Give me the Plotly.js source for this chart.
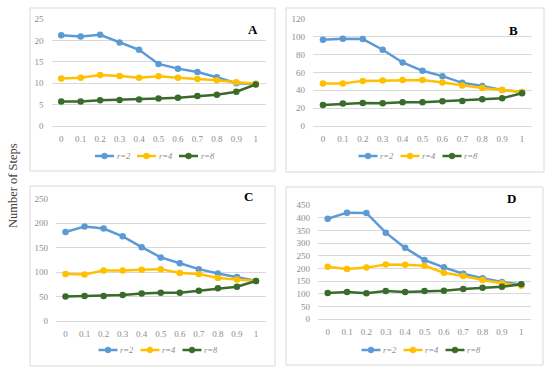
<!DOCTYPE html>
<html><head><meta charset="utf-8">
<script src="https://cdn.plot.ly/plotly-3.0.1.min.js"></script>
<style>body{margin:0;padding:0;background:#fff}#chart{width:550px;height:372px}</style>
</head><body><div id="chart"></div>
<script>
const xVals = [0, 0.1, 0.2, 0.3, 0.4, 0.5, 0.6, 0.7, 0.8, 0.9, 1];
const xTickLabels = ["0","0.1","0.2","0.3","0.4","0.5","0.6","0.7","0.8","0.9","1"];
const seriesNames = ["r=2", "r=4", "r=8"];
const panelLabels = ["A", "B", "C", "D"];

const A_r2 = [21.2, 20.9, 21.3, 19.5, 17.8, 14.5, 13.4, 12.6, 11.4, 10.0, 9.8];
const A_r4 = [11.1, 11.3, 11.9, 11.7, 11.3, 11.6, 11.3, 11.0, 10.7, 10.2, 9.9];
const A_r8 = [5.7, 5.7, 6.0, 6.1, 6.2, 6.4, 6.6, 7.0, 7.3, 8.0, 9.7];

const B_r2 = [96.7, 97.9, 97.5, 85.5, 71.2, 61.9, 55.9, 48.4, 45.0, 40.5, 38.2];
const B_r4 = [47.6, 47.6, 50.6, 51.0, 51.7, 51.7, 48.7, 45.4, 42.7, 40.5, 38.2];
const B_r8 = [23.6, 25.1, 25.9, 25.5, 26.6, 26.6, 27.7, 28.1, 30.0, 31.1, 36.7];

const C_r2 = [182, 193, 189, 173, 151, 130, 118, 106, 97, 90, 82];
const C_r4 = [96, 95, 103, 103, 105, 106, 98, 96, 88, 85, 82];
const C_r8 = [50, 51, 51, 53, 56, 58, 58, 62, 67, 70, 82];

const D_r2 = [397, 421, 420, 342, 282, 234, 205, 180, 162, 147, 137];
const D_r4 = [207, 199, 204, 216, 215, 211, 184, 171, 155, 142, 132];
const D_r8 = [104, 108, 103, 112, 108, 112, 113, 120, 125, 128, 138];

const yTitle = "Number of Steps";

const colors = ["#5B9BD5", "#FFC000", "#3A6B2A"];
const FONT = "'Liberation Serif', 'Times New Roman', serif";
const W = 550, H = 372;
const px = v => v / W;
const py = v => 1 - v / H;

const panels = [
  {data:[A_r2,A_r4,A_r8], x0:51.5, x1:265.5, yt:19, yb:126, yr:[0,25], dt:5, box:[30,8,275,171], lab:[253,29], leg:[152.5,156]},
  {data:[B_r2,B_r4,B_r8], x0:313, x1:532, yt:19, yb:126, yr:[0,120], dt:20, box:[286,8,544,172], lab:[513,30], leg:[416,156]},
  {data:[C_r2,C_r4,C_r8], x0:56, x1:265.5, yt:198.7, yb:321, yr:[0,250], dt:50, box:[30,186,275,366], lab:[248,196], leg:[156,350]},
  {data:[D_r2,D_r4,D_r8], x0:318, x1:531, yt:205.3, yb:319.3, yr:[0,450], dt:50, box:[286,187,543,365], lab:[511,198], leg:[419,350]}
];
// legend entry layout (pixels, relative to legend centre)
const legStarts = [-57.5, -15.5, 26.5];
const legLineLen = 19;

const traces = [];
const layout = {
  width: W, height: H,
  margin: {l:0, r:0, t:0, b:0},
  paper_bgcolor: "#fff", plot_bgcolor: "rgba(0,0,0,0)",
  font: {family: FONT, color: "#595959"},
  showlegend: false,
  shapes: [], annotations: []
};

panels.forEach((p, i) => {
  const n = i === 0 ? "" : String(i + 1);
  p.data.forEach((arr, k) => {
    traces.push({
      x: xVals, y: arr, type: "scatter", mode: "lines+markers",
      name: seriesNames[k],
      xaxis: "x" + n, yaxis: "y" + n,
      line: {color: colors[k], width: 2.5},
      marker: {color: colors[k], size: 6.5},
      hoverinfo: "skip"
    });
    // legend sample
    const lx0 = p.leg[0] + legStarts[k];
    const ly = p.leg[1];
    layout.shapes.push({
      type: "line", xref: "paper", yref: "paper",
      x0: px(lx0), x1: px(lx0 + legLineLen), y0: py(ly), y1: py(ly),
      line: {color: colors[k], width: 2.5}
    });
    layout.shapes.push({
      type: "circle", xref: "paper", yref: "paper",
      x0: px(lx0 + legLineLen/2 - 3), x1: px(lx0 + legLineLen/2 + 3),
      y0: py(ly + 3), y1: py(ly - 3),
      line: {color: colors[k], width: 0.5}, fillcolor: colors[k]
    });
    layout.annotations.push({
      text: "<i>" + seriesNames[k] + "</i>", xref: "paper", yref: "paper",
      x: px(lx0 + legLineLen + 0.5), y: py(ly), xanchor: "left", yanchor: "middle",
      showarrow: false, font: {size: 8.5, color: "#8C8C8C", family: FONT}
    });
  });
  layout["xaxis" + n] = {
    domain: [px(p.x0), px(p.x1)], anchor: "y" + n,
    range: [-0.05, 1.05], tickvals: xVals, ticktext: xTickLabels,
    showgrid: false, zeroline: false, showline: false, ticks: "",
    tickfont: {size: 9, color: "#8C8C8C", family: FONT},
    ticklabelstandoff: 6, fixedrange: true
  };
  layout["yaxis" + n] = {
    domain: [py(p.yb), py(p.yt)], anchor: "x" + n,
    range: p.yr, dtick: p.dt, tick0: 0,
    showgrid: true, gridcolor: "#D9D9D9", gridwidth: 1,
    zeroline: true, zerolinecolor: "#D9D9D9", zerolinewidth: 1,
    showline: false, ticks: "",
    tickfont: {size: 9, color: "#8C8C8C", family: FONT},
    ticklabelstandoff: 7, fixedrange: true
  };
  layout.shapes.push({
    type: "rect", xref: "paper", yref: "paper",
    x0: px(p.box[0]), x1: px(p.box[2]), y0: py(p.box[3]), y1: py(p.box[1]),
    line: {color: "#D9D9D9", width: 1}, fillcolor: "rgba(0,0,0,0)", layer: "below"
  });
  layout.annotations.push({
    text: "<b>" + panelLabels[i] + "</b>", xref: "paper", yref: "paper",
    x: px(p.lab[0]), y: py(p.lab[1]), xanchor: "center", yanchor: "middle",
    showarrow: false, font: {size: 13, color: "#000", family: FONT}
  });
});

layout.annotations.push({
  text: yTitle, xref: "paper", yref: "paper",
  x: px(13), y: py(186), xanchor: "center", yanchor: "middle",
  textangle: -90, showarrow: false,
  font: {size: 12.5, color: "#404040", family: FONT}
});

Plotly.newPlot("chart", traces, layout, {staticPlot: true, displayModeBar: false});
</script></body></html>
